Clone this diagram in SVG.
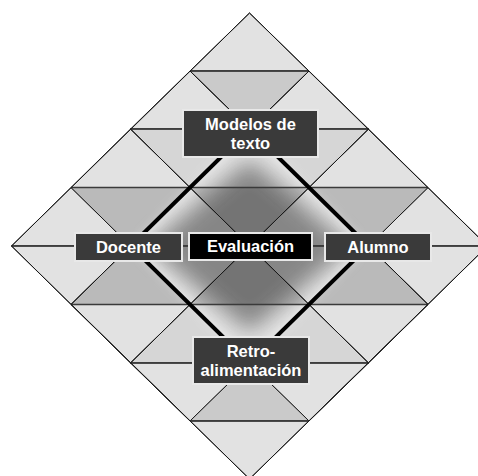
<svg xmlns="http://www.w3.org/2000/svg" width="478" height="476" viewBox="0 0 478 476">
<style>
.l{fill:#e2e2e2}
.d1{fill:#cacaca}
.d2{fill:#d6d6d6}
.d3{fill:#bababa}
.tile polygon{stroke:#1a1a1a;stroke-width:1}
.h{stroke:#3a3a3a;stroke-width:1.3}
.box{fill:#3a3a3a;stroke:#e8e8e8;stroke-width:2}
.boxk{fill:#000;stroke:#e8e8e8;stroke-width:2}
.t{font-family:"Liberation Sans",Arial,sans-serif;font-weight:bold;font-size:16.5px;fill:#fff;text-anchor:middle}
.c{stroke:#000;stroke-width:4;fill:none;stroke-linecap:butt}
</style>
<defs>
<filter id="blur" x="-50%" y="-50%" width="200%" height="200%"><feGaussianBlur stdDeviation="11"/></filter>
<filter id="blur2" x="-50%" y="-50%" width="200%" height="200%"><feGaussianBlur stdDeviation="4"/></filter>
</defs>
<rect width="478" height="476" fill="#fff"/>
<g class="tile">
<polygon class="l" points="249.5,13 309,71 190,71"/>
<polygon class="l" points="190,71 249.5,129 130.5,129"/>
<polygon class="l" points="309,71 368.5,129 249.5,129"/>
<polygon class="d1" points="190,71 309,71 249.5,129"/>
<polygon class="l" points="130.5,129 190,187.5 71,187.5"/>
<polygon class="l" points="249.5,129 309,187.5 190,187.5"/>
<polygon class="l" points="368.5,129 428,187.5 309,187.5"/>
<polygon class="d2" points="130.5,129 249.5,129 190,187.5"/>
<polygon class="d2" points="249.5,129 368.5,129 309,187.5"/>
<polygon class="l" points="71,187.5 130.5,246 11.5,246"/>
<polygon class="l" points="190,187.5 249.5,246 130.5,246"/>
<polygon class="l" points="309,187.5 368.5,246 249.5,246"/>
<polygon class="l" points="428,187.5 487.5,246 368.5,246"/>
<polygon class="d3" points="71,187.5 190,187.5 130.5,246"/>
<polygon class="d3" points="190,187.5 309,187.5 249.5,246"/>
<polygon class="d3" points="309,187.5 428,187.5 368.5,246"/>
<polygon class="l" points="11.5,246 130.5,246 71,304.5"/>
<polygon class="l" points="130.5,246 249.5,246 190,304.5"/>
<polygon class="l" points="249.5,246 368.5,246 309,304.5"/>
<polygon class="l" points="368.5,246 487.5,246 428,304.5"/>
<polygon class="d3" points="130.5,246 190,304.5 71,304.5"/>
<polygon class="d3" points="249.5,246 309,304.5 190,304.5"/>
<polygon class="d3" points="368.5,246 428,304.5 309,304.5"/>
<polygon class="l" points="71,304.5 190,304.5 130.5,363"/>
<polygon class="l" points="190,304.5 309,304.5 249.5,363"/>
<polygon class="l" points="309,304.5 428,304.5 368.5,363"/>
<polygon class="d2" points="190,304.5 249.5,363 130.5,363"/>
<polygon class="d2" points="309,304.5 368.5,363 249.5,363"/>
<polygon class="l" points="130.5,363 249.5,363 190,421"/>
<polygon class="l" points="249.5,363 368.5,363 309,421"/>
<polygon class="d1" points="249.5,363 309,421 190,421"/>
<polygon class="l" points="190,421 309,421 249.5,479"/>
</g>
<polygon points="249.5,160 350,246 249.5,332 149,246" fill="#3a3a3a" opacity="0.55" filter="url(#blur)"/>
<g fill="none" stroke="#f2f2f2" stroke-width="6" opacity="0.4" filter="url(#blur2)">
<polygon points="249.5,129 368.5,246 249.5,363 130.5,246"/>
</g>
<g class="h">
<line x1="190" y1="71" x2="309" y2="71"/>
<line x1="130.5" y1="129" x2="368.5" y2="129"/>
<line x1="71" y1="187.5" x2="428" y2="187.5"/>
<line x1="11.5" y1="246" x2="487.5" y2="246"/>
<line x1="71" y1="304.5" x2="428" y2="304.5"/>
<line x1="130.5" y1="363" x2="368.5" y2="363"/>
<line x1="190" y1="421" x2="309" y2="421"/>
</g>
<g stroke="#1a1a1a" stroke-width="1" fill="none">
<polyline points="190,71 309,187.5 428,304.5 309,421"/>
<polyline points="309,71 190,187.5 71,304.5 190,421"/>
<line x1="130.5" y1="129" x2="368.5" y2="363"/>
<line x1="368.5" y1="129" x2="130.5" y2="363"/>
<polygon points="249.5,13 487.5,246 249.5,479 11.5,246"/>
</g>
<g id="connectors">
<polygon class="c" points="249.5,129 368.5,246 249.5,363 130.5,246"/>
</g>
<g id="node-modelos">
<rect class="box" x="183" y="110" width="135" height="47"/>
<text class="t" x="250.5" y="129.5">Modelos de</text>
<text class="t" x="250.5" y="148.5">texto</text>
</g>
<g id="node-docente">
<rect class="box" x="75" y="233" width="107" height="28"/>
<text class="t" x="128.5" y="252.5">Docente</text>
</g>
<g id="node-evaluacion">
<rect class="boxk" x="189" y="233" width="123" height="27"/>
<text class="t" x="250.5" y="251.5">Evaluación</text>
</g>
<g id="node-alumno">
<rect class="box" x="325" y="233" width="106" height="28"/>
<text class="t" x="378" y="252.5">Alumno</text>
</g>
<g id="node-retro">
<rect class="box" x="193" y="337" width="116" height="47"/>
<text class="t" x="251" y="357">Retro-</text>
<text class="t" x="251" y="376">alimentación</text>
</g>
</svg>
